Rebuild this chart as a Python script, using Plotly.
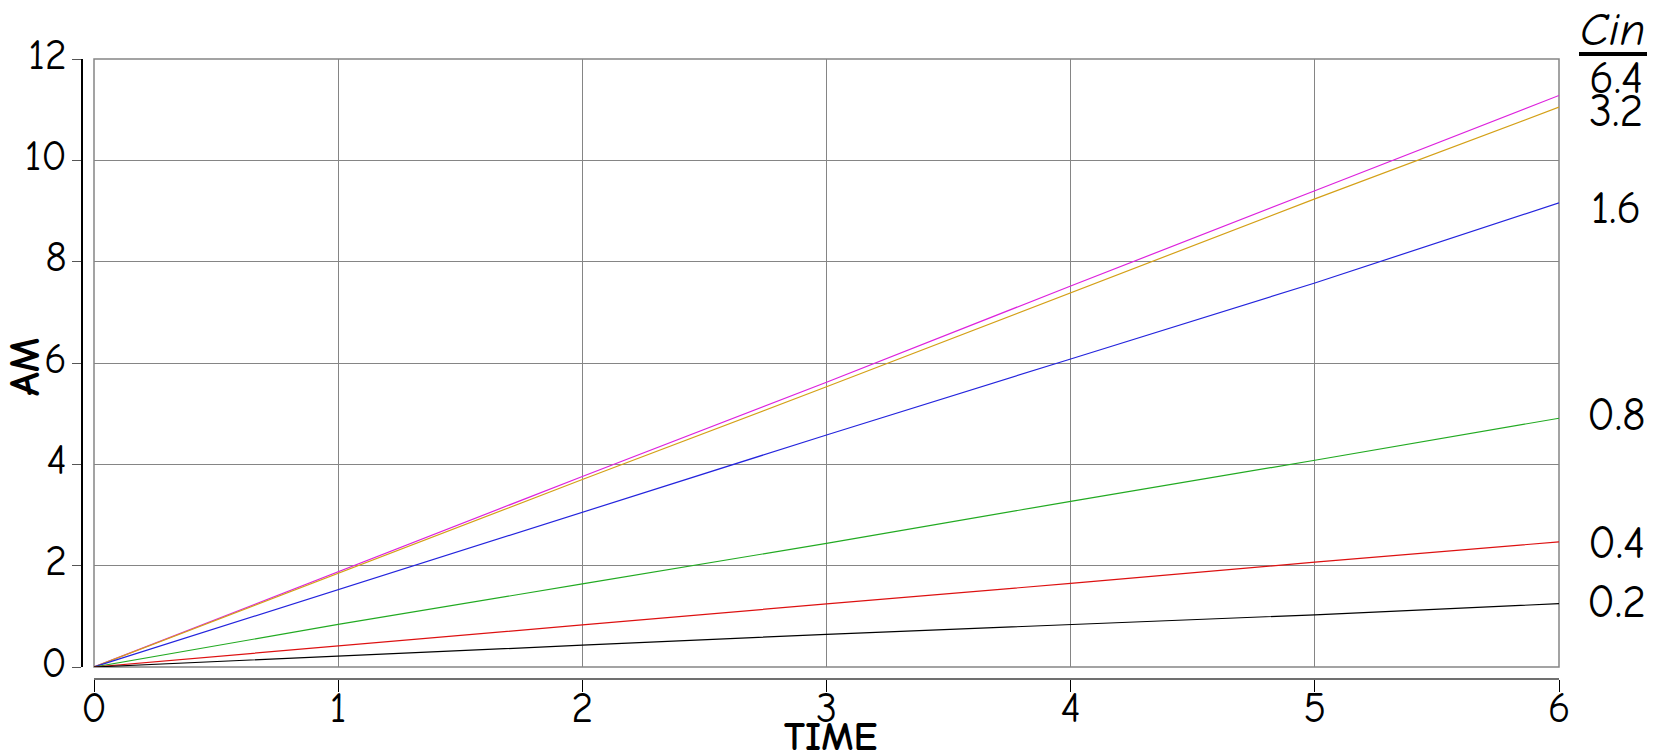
import plotly.graph_objects as go

# ---- data ----
time = [0, 1, 2, 3, 4, 5, 6]
cin_labels = ["6.4", "3.2", "1.6", "0.8", "0.4", "0.2"]
am_64 = [0, 1.88, 3.76, 5.62, 7.52, 9.40, 11.28]
am_32 = [0, 1.85, 3.70, 5.53, 7.38, 9.24, 11.05]
am_16 = [0, 1.53, 3.06, 4.58, 6.08, 7.58, 9.16]
am_08 = [0, 0.84, 1.64, 2.44, 3.27, 4.08, 4.91]
am_04 = [0, 0.42, 0.83, 1.245, 1.65, 2.07, 2.47]
am_02 = [0, 0.21, 0.43, 0.645, 0.84, 1.03, 1.25]
x_ticks = [0, 1, 2, 3, 4, 5, 6]
y_ticks = [0, 2, 4, 6, 8, 10, 12]

series = [am_64, am_32, am_16, am_08, am_04, am_02]
colors = ["#dd22dd", "#d4a017", "#2424dd", "#22aa22", "#dd1111", "#000000"]

W, H = 1662, 751
L, R, T, B = 82, 103, 59, 72
pw, ph = W - L - R, H - T - B
gap = 12

def px(x):
    return (x - L) / pw

def py(y):
    return (H - B - y) / ph

FONT = "Comic Sans MS, Comic Neue, DejaVu Sans, sans-serif"
TICK = 42

fig = go.Figure()
for vals, col, name in zip(series, colors, cin_labels):
    fig.add_trace(go.Scatter(x=time, y=vals, mode="lines", name=name,
                             line=dict(color=col, width=1.2), showlegend=False))

fig.update_layout(
    width=W, height=H,
    margin=dict(l=L, r=R, t=T, b=B, pad=0, autoexpand=False),
    paper_bgcolor="white", plot_bgcolor="white",
    font=dict(family=FONT, size=TICK, color="black"),
    xaxis=dict(domain=[gap / pw, 1], anchor="free", position=0,
               range=[0, 6], tickvals=x_ticks, ticktext=[str(v) for v in x_ticks],
               showgrid=True, gridcolor="#858585", gridwidth=1,
               zeroline=False, showline=True, linecolor="#707070", linewidth=2,
               ticks="outside", ticklen=12, tickcolor="#000000", tickwidth=1,
               ticklabelstandoff=-20,
               tickfont=dict(family=FONT, size=TICK), automargin=False),
    yaxis=dict(domain=[gap / ph, 1], anchor="free", position=0,
               range=[0, 12], tickvals=y_ticks, ticktext=[str(v) for v in y_ticks],
               showgrid=True, gridcolor="#858585", gridwidth=1,
               zeroline=False, showline=True, linecolor="#000000", linewidth=1.5,
               ticks="outside", ticklen=9, tickcolor="#555555", tickwidth=1,
               ticklabelstandoff=-3, ticklabelshift=-5,
               tickfont=dict(family=FONT, size=TICK), automargin=False),
)

# plot frame
fig.add_shape(type="rect", xref="x domain", yref="y domain", x0=0, x1=1, y0=0, y1=1,
              line=dict(color="#858585", width=1.5), fillcolor="rgba(0,0,0,0)", layer="below")

# axis titles
fig.add_annotation(text="<b>TIME</b>", xref="paper", yref="paper", x=px(830), y=py(737),
                   showarrow=False, font=dict(family=FONT, size=40), xanchor="center", yanchor="middle")
fig.add_annotation(text="<b>AM</b>", xref="paper", yref="paper", x=px(25), y=py(367),
                   showarrow=False, textangle=-90, font=dict(family=FONT, size=43),
                   xanchor="center", yanchor="middle")

# right-hand labels
fig.add_annotation(text="<i>Cin</i>", xref="paper", yref="paper", x=px(1613), y=py(30),
                   showarrow=False, font=dict(family=FONT, size=47), xanchor="center", yanchor="middle")
fig.add_shape(type="line", xref="paper", yref="paper", x0=px(1579), x1=px(1647), y0=py(54), y1=py(54),
              line=dict(color="black", width=4))
label_y = [79, 112, 208, 415, 543, 602]
for lab, yy in zip(cin_labels, label_y):
    fig.add_annotation(text=lab, xref="paper", yref="paper", x=px(1616), y=py(yy),
                       showarrow=False, font=dict(family=FONT, size=46),
                       xanchor="center", yanchor="middle")

fig.write_html("out.html", config={"displayModeBar": False},
               post_script="document.body.style.margin='0px';")
